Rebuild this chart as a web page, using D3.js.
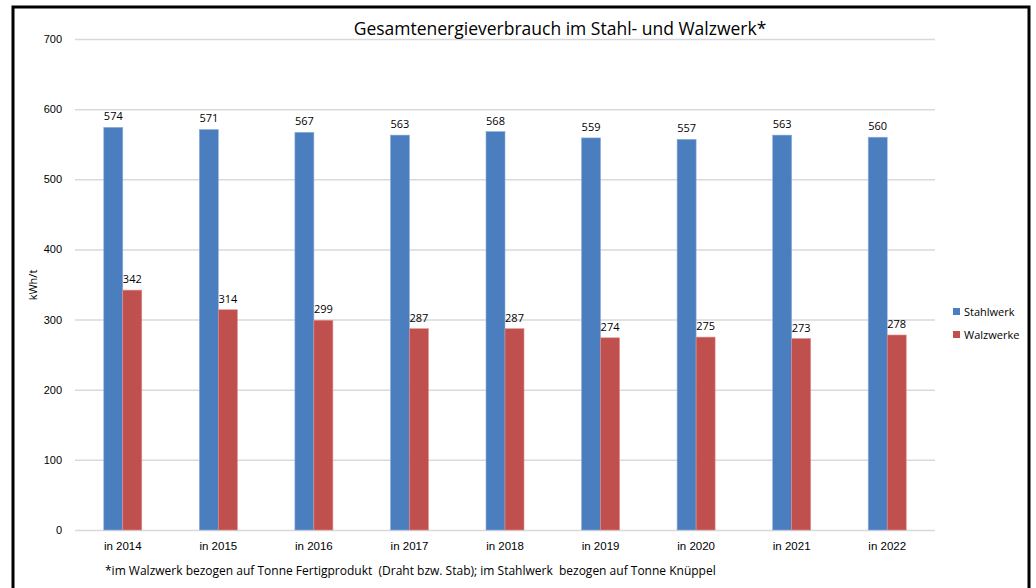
<!DOCTYPE html>
<html>
<head>
<meta charset="utf-8">
<script src="https://cdn.jsdelivr.net/npm/d3@7"></script>
<style>
  body { margin: 0; background: #fff; font-family: "Open Sans", "Noto Sans", sans-serif; overflow: hidden; }
  .tick text { font-size: 11px; fill: #000; }
  .x-axis .tick text { font-size: 11.5px; }
  .lbl { font-size: 11px; fill: #000; }
</style>
</head>
<body>
<div id="app"></div>
<script>
const years = ['in 2014', 'in 2015', 'in 2016', 'in 2017', 'in 2018', 'in 2019', 'in 2020', 'in 2021', 'in 2022'];
const stahlwerk = [574, 571, 567, 563, 568, 559, 557, 563, 560];
const walzwerke = [342, 314, 299, 287, 287, 274, 275, 273, 278];
const seriesNames = ['Stahlwerk', 'Walzwerke'];
const colors = ['#4a7ebf', '#c0504d'];
const yTicks = [0, 100, 200, 300, 400, 500, 600, 700];

const width = 1036, height = 588;
const margin = { left: 75, right: 101, top: 39, bottom: 58 };
const innerWidth = width - margin.left - margin.right;
const innerHeight = height - margin.top - margin.bottom;

const svg = d3.select('#app').append('svg').attr('width', width).attr('height', height);

// frame (bottom edge sits outside the picture, like the reference)
svg.append('path')
  .attr('d', 'M13,592 L13,7 L1029,7 L1029,592')
  .attr('fill', 'none').attr('stroke', '#000').attr('stroke-width', 3);

const g = svg.append('g').attr('transform', `translate(${margin.left}, ${margin.top})`);

const x = d3.scaleBand(years, [0, innerWidth]);
const xInner = d3.scaleBand([0, 1], [0, 38]);
const y = d3.scaleLinear([0, 700], [innerHeight, 0]);

// grid + y axis
const yAxis = g.append('g').call(d3.axisLeft(y).tickValues(yTicks).tickSize(-innerWidth).tickPadding(13));
yAxis.select('.domain').remove();
yAxis.selectAll('line').attr('stroke', '#d9d9d9').attr('stroke-width', 1.5);

// x axis labels
const xAxis = g.append('g').attr('class', 'x-axis').attr('transform', `translate(0, ${innerHeight})`)
  .call(d3.axisBottom(x).tickSize(0).tickPadding(12));
xAxis.select('.domain').remove();

const data = years.map((yr, i) => ({ year: yr, values: [stahlwerk[i], walzwerke[i]] }));

const groups = g.selectAll('g.bar').data(data).enter().append('g')
  .attr('class', 'bar')
  .attr('transform', d => `translate(${x(d.year) + x.bandwidth() / 2 - 19}, 0)`);

groups.selectAll('rect').data(d => d.values).enter().append('rect')
  .attr('x', (d, i) => xInner(i))
  .attr('width', xInner.bandwidth())
  .attr('y', d => y(d))
  .attr('height', d => innerHeight - y(d))
  .attr('fill', (d, i) => colors[i])
  .attr('stroke', (d, i) => i === 0 ? '#8fb0dc' : '#e08e8c')
  .attr('stroke-width', 0.6);

groups.selectAll('text.lbl').data(d => d.values).enter().append('text')
  .attr('class', 'lbl')
  .attr('x', (d, i) => xInner(i) + xInner.bandwidth() / 2)
  .attr('y', d => y(d) - 7)
  .attr('text-anchor', 'middle')
  .text(d => d);

// y title
svg.append('text')
  .attr('transform', 'translate(37, 285) rotate(-90)')
  .attr('text-anchor', 'middle')
  .attr('font-size', 11)
  .text('kWh/t');

// title
svg.append('text')
  .attr('x', 560).attr('y', 35)
  .attr('text-anchor', 'middle')
  .attr('font-size', 17.5)
  .text('Gesamtenergieverbrauch im Stahl- und Walzwerk*');

// legend
const legend = svg.append('g').attr('transform', 'translate(953, 307)');
seriesNames.forEach((name, i) => {
  const row = legend.append('g').attr('transform', `translate(0, ${i * 23})`);
  row.append('rect').attr('width', 7).attr('height', 7).attr('y', 1).attr('fill', colors[i]);
  row.append('text').attr('x', 11).attr('y', 9).attr('font-size', 11).text(name);
});

// footnote
svg.append('text')
  .attr('x', 105).attr('y', 575)
  .attr('font-size', 12)
  .attr('xml:space', 'preserve')
  .style('white-space', 'pre')
  .text('*im Walzwerk bezogen auf Tonne Fertigprodukt  (Draht bzw. Stab); im Stahlwerk  bezogen auf Tonne Knüppel');
</script>
</body>
</html>
